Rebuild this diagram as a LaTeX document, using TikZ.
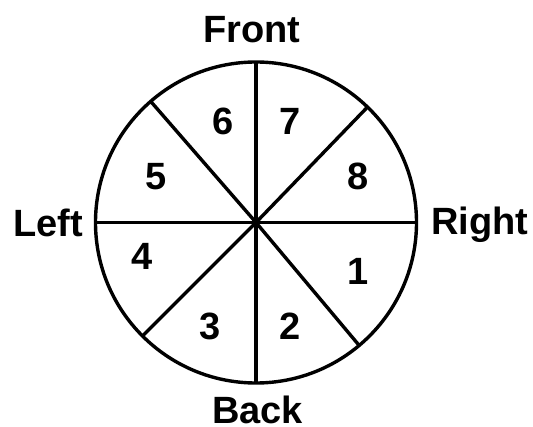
\documentclass[tikz,border=0pt]{standalone}
\usepackage{fontspec}
\setmainfont{Liberation Sans}
\begin{document}
\begin{tikzpicture}[x=1pt,y=-1pt,
  lbl/.style={anchor=base,inner sep=0pt,text depth=0pt,font=\bfseries\fontsize{38}{40}\selectfont},
  spoke/.style={line width=3.4pt},
  wheel/.style={circle,draw,line width=3.4pt,minimum size=321pt,inner sep=0pt,outer sep=0pt}]
\useasboundingbox (0,0) rectangle (533,427);
\node[wheel] (circ) at (256,222.5) {};
\foreach \a in {0,46.5,90,131,180,225,270,310}
  \draw[spoke] (circ.center) -- (circ.\a);
\node[lbl] (front) at (252,42.7) {Front};
\node[lbl] (left) at (48.3,236.7) {Left};
\node[lbl] (right) at (480,234.3) {Right};
\node[lbl] (back) at (257.5,423.5) {Back};
\node[lbl] (n6) at (223.3,135) {6};
\node[lbl] (n7) at (289.7,135) {7};
\node[lbl] (n5) at (155.8,190) {5};
\node[lbl] (n8) at (357.8,190) {8};
\node[lbl] (n4) at (142.5,270) {4};
\node[lbl] (n1) at (358,285) {1};
\node[lbl] (n3) at (210,340) {3};
\node[lbl] (n2) at (290,340) {2};
\end{tikzpicture}
\end{document}
